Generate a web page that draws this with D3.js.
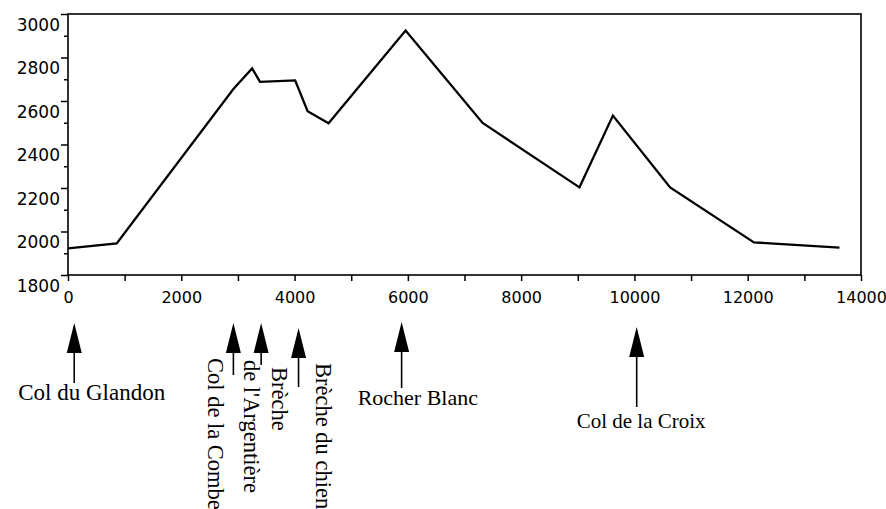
<!DOCTYPE html>
<html>
<head>
<meta charset="utf-8">
<script src="https://cdn.jsdelivr.net/npm/d3@7"></script>
<style>
  html, body { margin: 0; padding: 0; background: #fff; }
  svg { display: block; }
</style>
</head>
<body>
<svg id="chart" width="886" height="509"></svg>
<script>
// ---- data ----
const distance = [0, 860, 2920, 3250, 3390, 4010, 4230, 4600, 5960, 7320, 9030, 9620, 10630, 12110, 13620];
const altitude = [1922, 1945, 2655, 2750, 2688, 2695, 2553, 2498, 2924, 2499, 2203, 2533, 2203, 1950, 1926];

const xTickValues = [0, 2000, 4000, 6000, 8000, 10000, 12000, 14000];
const yTickValues = [1800, 2000, 2200, 2400, 2600, 2800, 3000];

const landmarkNames = [["Col du Glandon"], ["Col de la Combe"], ["Brèche", "de l'Argentière"], ["Brèche du chien"], ["Rocher Blanc"], ["Col de la Croix"]];
const landmarkDistance = [110, 2920, 3410, 4070, 5890, 10040];

// ---- layout ----
const M = { left: 68, right: 861, top: 14, bottom: 275 };

const svg = d3.select("#chart");
const x = d3.scaleLinear().domain([0, 14000]).range([M.left, M.right]);
const y = d3.scaleLinear().domain([1800, 3000]).range([M.bottom, M.top]);

// frame
svg.append("rect")
  .attr("x", M.left).attr("y", M.top)
  .attr("width", M.right - M.left).attr("height", M.bottom - M.top)
  .attr("fill", "none").attr("stroke", "#000").attr("stroke-width", 1.6);

// x axis
const xAxis = d3.axisBottom(x)
  .tickValues(d3.range(0, 14001, 1000))
  .tickSize(6)
  .tickFormat(d => xTickValues.includes(d) ? String(d) : "");
const gx = svg.append("g").attr("transform", `translate(0,${M.bottom})`).call(xAxis);
gx.select(".domain").remove();
gx.selectAll(".tick line").attr("stroke", "#000").attr("stroke-width", 1.5);
gx.selectAll(".tick text")
  .attr("font-family", "'DejaVu Sans', Verdana, sans-serif")
  .attr("font-size", 16).attr("fill", "#000")
  .attr("y", 17);

// y axis
const yAxis = d3.axisLeft(y)
  .tickValues(d3.range(1800, 3001, 100))
  .tickSize(6)
  .tickFormat(d => yTickValues.includes(d) ? String(d) : "");
const gy = svg.append("g").attr("transform", `translate(${M.left},0)`).call(yAxis);
gy.select(".domain").remove();
gy.selectAll(".tick line")
  .attr("stroke", "#000").attr("stroke-width", 1.5)
  .attr("x2", d => yTickValues.includes(d) ? -7 : -4);
gy.selectAll(".tick text")
  .attr("font-family", "'DejaVu Sans', Verdana, sans-serif")
  .attr("font-size", 17).attr("fill", "#000")
  .attr("x", -8).attr("dy", "0.95em");

// profile line
const pts = distance.map((d, i) => [d, altitude[i]]);
svg.append("path")
  .datum(pts)
  .attr("fill", "none").attr("stroke", "#000")
  .attr("stroke-width", 2.3).attr("stroke-linejoin", "miter")
  .attr("d", d3.line().x(d => x(d[0])).y(d => y(d[1])));

// landmark arrows and labels
const arrowLayout = [
  { tip: 323, end: 383, rot: false, size: 23,   lines: [{ dx: -56, dy: 77 }] },
  { tip: 323, end: 375, rot: true,  size: 22.5, lines: [{ dx: -25, dy: 35 }] },
  { tip: 323, end: 365, rot: true,  size: 22.5, lines: [{ dx: 11, dy: 44 }, { dx: -17, dy: 37 }] },
  { tip: 328, end: 387, rot: true,  size: 22.5, lines: [{ dx: 17, dy: 35 }] },
  { tip: 322, end: 388, rot: false, size: 22,   lines: [{ dx: -44, dy: 83 }] },
  { tip: 327, end: 407, rot: false, size: 21,   lines: [{ dx: -60, dy: 101 }] }
];
const headW = 7.5, headH = 30;

const lg = svg.append("g");
landmarkDistance.forEach((d, i) => {
  const ax = x(d);
  const L = arrowLayout[i];
  lg.append("line")
    .attr("x1", ax).attr("x2", ax)
    .attr("y1", L.tip + headH - 2).attr("y2", L.end)
    .attr("stroke", "#000").attr("stroke-width", 1.6);
  lg.append("path")
    .attr("d", `M${ax},${L.tip} L${ax - headW},${L.tip + headH} L${ax + headW},${L.tip + headH} Z`)
    .attr("fill", "#000");
  landmarkNames[i].forEach((name, j) => {
    const p = L.lines[j];
    const tx = ax + p.dx, ty = L.tip + p.dy;
    lg.append("text")
      .attr("x", tx).attr("y", ty)
      .attr("transform", L.rot ? `rotate(90,${tx},${ty})` : null)
      .attr("font-family", "'Liberation Serif', 'Times New Roman', serif")
      .attr("font-size", L.size).attr("fill", "#000")
      .text(name);
  });
});
</script>
</body>
</html>
